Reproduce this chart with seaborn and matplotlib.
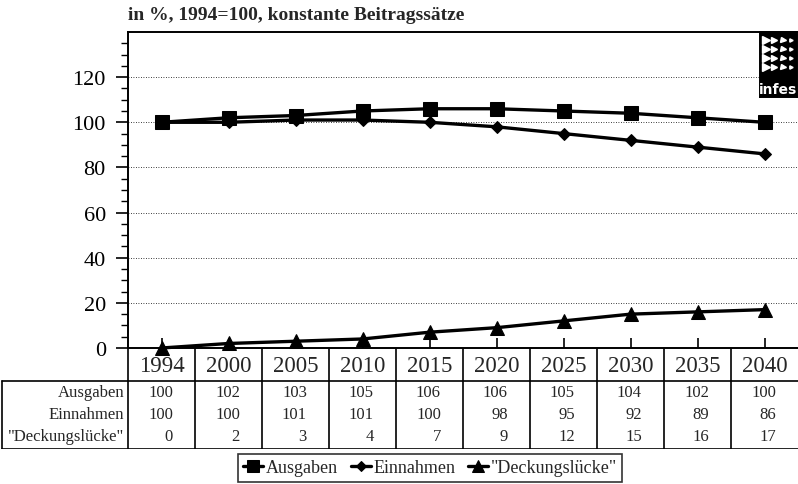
import numpy as np
import pandas as pd
import matplotlib
matplotlib.use("Agg")
import matplotlib.pyplot as plt
import seaborn as sns

years = ["1994", "2000", "2005", "2010", "2015", "2020", "2025", "2030", "2035", "2040"]
ausgaben = [100, 102, 103, 105, 106, 106, 105, 104, 102, 100]
einnahmen = [100, 100, 101, 101, 100, 98, 95, 92, 89, 86]
luecke = [0, 2, 3, 4, 7, 9, 12, 15, 16, 17]
series_names = ["Ausgaben", "Einnahmen", '"Deckungslücke"']
series_values = [ausgaben, einnahmen, luecke]
title = "in %, 1994=100, konstante Beitragssätze"

sns.set_style("ticks")
plt.rcParams["font.family"] = ["Liberation Serif", "DejaVu Serif"]
plt.rcParams["axes.edgecolor"] = "black"
plt.rcParams["axes.linewidth"] = 1.4

W, H = 798, 485
fig = plt.figure(figsize=(W / 100, H / 100), dpi=100)

# main plot area (pixel layout of the original)
px_left, px_right, px_top, px_bottom = 128, 798, 33, 349
ax = fig.add_axes([px_left / W, 1 - px_bottom / H, (px_right - px_left) / W, (px_bottom - px_top) / H])

df = pd.DataFrame({"pos": np.arange(len(years))})
for name, vals in zip(series_names, series_values):
    df[name] = vals

markers = ["s", "D", "^"]
msizes = [10, 6, 10]
for name, m, ms in zip(series_names, markers, msizes):
    sns.lineplot(data=df, x="pos", y=name, ax=ax, color="black", linewidth=2.4,
                 marker=m, markersize=ms, markeredgecolor="black", label=name,
                 clip_on=False, zorder=3)

ax.set_xlim(-0.5, len(years) - 0.5)
ax.set_ylim(0, 140)
ax.set_xlabel("")
ax.set_ylabel("")
ax.set_xticks(np.arange(len(years)))
ax.set_xticklabels([])
ax.tick_params(axis="x", direction="in", length=7, width=1.2, color="black")
ax.set_yticks(np.arange(0, 121, 20))
ax.set_yticks(np.arange(0, 140, 5), minor=True)
ax.tick_params(axis="y", which="major", direction="out", length=9, width=1.2,
               labelsize=16, pad=7, colors="black")
ax.tick_params(axis="y", which="minor", direction="out", length=5, width=1.0, color="black")
ax.yaxis.grid(True, which="major", linestyle=(0, (1, 2)), color="black", linewidth=0.6)
ax.spines["right"].set_visible(False)
ax.get_legend().remove()

fig.text(px_left / W, 1 - 16 / H, title, fontsize=14, fontweight="bold",
         ha="left", va="center")

# data table below the axis
unit = (px_right - px_left) / len(years)
tab_bottom = 450
tax = fig.add_axes([0, 1 - tab_bottom / H, 1, (tab_bottom - px_bottom) / H])
tax.set_xlim(-0.5 - px_left / unit, len(years) - 0.5)
tax.set_ylim(tab_bottom - px_bottom, 0)
tax.axis("off")
x0 = -0.5 - (px_left - 2) / unit
xe = len(years) - 0.5
tax.plot([x0, xe], [33, 33], color="black", lw=1.2)
tax.plot([x0, xe], [101, 101], color="black", lw=1.2)
tax.plot([x0, x0], [33, 101], color="black", lw=1.2)
for i in range(len(years)):
    tax.plot([i - 0.5, i - 0.5], [0, 101], color="black", lw=1.2)
    tax.text(i, 17, years[i], fontsize=16.5, ha="center", va="center")
row_y = [44, 66, 88]
for name, vals, ry in zip(series_names, series_values, row_y):
    tax.text(-0.5 - 4 / unit, ry, name, fontsize=12, ha="right", va="center")
    for i, v in enumerate(vals):
        tax.text(i + 0.17, ry, str(v), fontsize=12, ha="right", va="center")

# legend
handles, labels = ax.get_legend_handles_labels()
leg = fig.legend(handles, labels, loc="upper center", bbox_to_anchor=(0.539, 1 - 455 / H),
                 ncol=3, frameon=True, fancybox=False, fontsize=13, handlelength=1.1,
                 handletextpad=0.15, columnspacing=0.7, borderpad=0.3, borderaxespad=0,
                 markerscale=0.8)
leg.get_frame().set_edgecolor("black")
leg.get_frame().set_linewidth(1.2)

# logo box
lax = fig.add_axes([760 / W, 1 - 98 / H, 37 / W, 65 / H])
lax.set_facecolor("black")
lax.set_xlim(0, 1)
lax.set_ylim(0, 1)
lax.set_xticks([])
lax.set_yticks([])
for r in range(4):
    for c in range(4):
        s = 6 - c * 1.2
        lax.plot(0.15 + c * 0.23, 0.88 - r * 0.14, marker=">", color="white", markersize=max(s, 1.5))
lax.text(0.5, 0.12, "infes", color="white", fontsize=10, fontweight="bold",
         ha="center", va="center", family="Liberation Sans Narrow")

fig.savefig("out.png", dpi=100)
